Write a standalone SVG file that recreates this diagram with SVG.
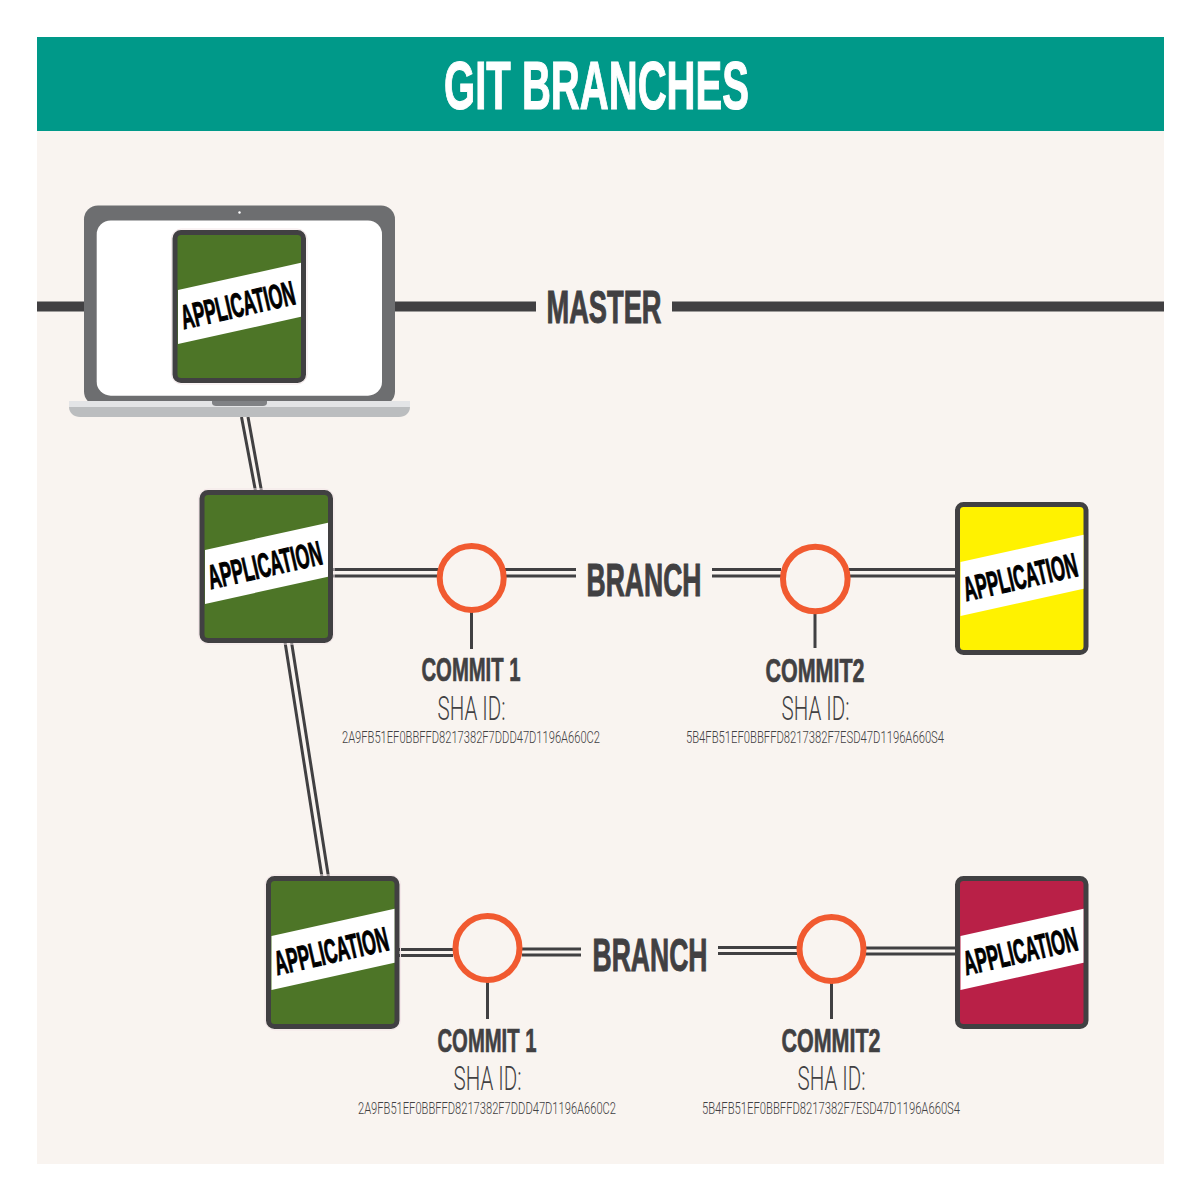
<svg xmlns="http://www.w3.org/2000/svg" xmlns:xlink="http://www.w3.org/1999/xlink" width="1200" height="1200" viewBox="0 0 1200 1200">
<style>
.h{font-family:"Liberation Sans",Arial,sans-serif;font-weight:700;fill:#414042;stroke:#414042;stroke-width:.7;text-anchor:middle}
.t{font-family:"Roboto","Liberation Sans",sans-serif;font-weight:300;fill:#414042;text-anchor:middle}
.sha{font-size:34px}
.hash{font-size:17px}
.c{font-size:34px}
.b{font-size:46.5px;stroke-width:1}
.app{font-family:"Liberation Sans",Arial,sans-serif;font-weight:700;font-size:34px;fill:#000;stroke:#000;stroke-width:1;text-anchor:middle}
.l{fill:none;stroke:#414042;stroke-width:3}
.ring{fill:#f9f4f0;stroke:#f15a30;stroke-width:6}
.frame{stroke:#414042;stroke-width:5;stroke-linejoin:round}
</style>
<defs>
<g id="label">
<rect x="-1" y="-1" width="135.500" height="155" rx="10" fill="none" stroke="#f3e6e8" stroke-width="1"/>
</g>
<g id="band">
<polygon points="5.500,60 128.500,32.700 128.500,86.700 5.500,114" fill="#fff"/>
<text class="app" transform="translate(67.800 86.500) rotate(-12.800)" x="0" y="0" textLength="116" lengthAdjust="spacingAndGlyphs">APPLICATION</text>
</g>
</defs>
<rect x="37" y="131" width="1127" height="1033" fill="#f9f4f0"/>
<g id="header">
<rect x="37" y="37" width="1127" height="94" fill="#009989"/>
<text x="596.500" y="109" font-family="Liberation Sans, Arial, sans-serif" font-weight="700" font-size="68" fill="#fff" stroke="#fff" stroke-width="1.200" text-anchor="middle" textLength="305" lengthAdjust="spacingAndGlyphs">GIT BRANCHES</text>
</g>
<g id="connectors">
<rect x="37" y="301.500" width="48" height="10" fill="#414042"/>
<rect x="394" y="301.500" width="142" height="10" fill="#414042"/>
<rect x="672" y="301.500" width="492" height="10" fill="#414042"/>
<path class="l" d="M241.500 417L255.500 491M248 417L261.500 491"/>
<path class="l" d="M285 642L322 877M291.500 642L328.500 877"/>
<path class="l" d="M332 569.500H438M332 576H438"/>
<path class="l" d="M505 569.500H576M505 576H576"/>
<path class="l" d="M712 569.500H781M712 576H781"/>
<path class="l" d="M849 569.500H956M849 576H956"/>
<path class="l" d="M399 949.500H453M399 955.500H453"/>
<path class="l" d="M522 949H581M522 955H581"/>
<path class="l" d="M718 947.500H798M718 953.500H798"/>
<path class="l" d="M865 948H956M865 954H956"/>
<path class="l" d="M471.500 612V649M815 614V648M487.500 982V1019M831.500 982V1019"/>
</g>
<g id="laptop">
<rect x="84" y="205.500" width="311" height="200" rx="14" fill="#6d6e70"/>
<rect x="96.700" y="220.500" width="285.300" height="175.200" rx="14" fill="#fff"/>
<circle cx="239.500" cy="212.500" r="1.200" fill="#fff"/>
<path d="M69 401H410V407C410 413 405 417 399 417H80C74 417 69 413 69 407Z" fill="#bbbdbf"/>
<rect x="69" y="401" width="341" height="6" fill="#e3e4e6"/>
<path d="M212 401H267V403C267 405 265 406 263 406H216C214 406 212 405 212 403Z" fill="#808285"/>
</g>
<g id="app-master" transform="translate(172.500 230)">
<use xlink:href="#label"/>
<rect class="frame" x="2.500" y="2.500" width="128.500" height="148" rx="6" fill="#4d7527"/>
<use xlink:href="#band"/>
</g>
<g id="app-branch1" transform="translate(199.500 490)">
<use xlink:href="#label"/>
<rect class="frame" x="2.500" y="2.500" width="128.500" height="148" rx="6" fill="#4d7527"/>
<use xlink:href="#band"/>
</g>
<g id="app-branch2" transform="translate(266 876)">
<use xlink:href="#label"/>
<rect class="frame" x="2.500" y="2.500" width="128.500" height="148" rx="6" fill="#4d7527"/>
<use xlink:href="#band"/>
</g>
<g id="app-yellow" transform="translate(955 502)">
<rect class="frame" x="2.500" y="2.500" width="128.500" height="148" rx="6" fill="#fff200"/>
<use xlink:href="#band"/>
</g>
<g id="app-crimson" transform="translate(955 876)">
<rect class="frame" x="2.500" y="2.500" width="128.500" height="148" rx="6" fill="#b92047"/>
<use xlink:href="#band"/>
</g>
<g id="label-master"><text class="h b" x="604" y="322.500" textLength="115" lengthAdjust="spacingAndGlyphs">MASTER</text></g>
<g id="label-branch1"><text class="h b" x="644" y="595.500" textLength="115" lengthAdjust="spacingAndGlyphs">BRANCH</text></g>
<g id="label-branch2"><text class="h b" x="650" y="970.500" textLength="115" lengthAdjust="spacingAndGlyphs">BRANCH</text></g>
<g id="commit-1a">
<circle class="ring" cx="471.700" cy="578" r="32"/>
<text class="h c" x="471" y="681" textLength="99" lengthAdjust="spacingAndGlyphs">COMMIT 1</text>
<text class="t sha" x="471.500" y="720" textLength="68" lengthAdjust="spacingAndGlyphs">SHA ID:</text>
<text class="t hash" transform="translate(471 743) scale(.66 1)" textLength="391" lengthAdjust="spacingAndGlyphs">2A9FB51EF0BBFFD8217382F7DDD47D1196A660C2</text>
</g>
<g id="commit-2a">
<circle class="ring" cx="815.300" cy="579" r="32.300"/>
<text class="h c" x="815" y="681.500" textLength="99" lengthAdjust="spacingAndGlyphs">COMMIT2</text>
<text class="t sha" x="815.500" y="720" textLength="68" lengthAdjust="spacingAndGlyphs">SHA ID:</text>
<text class="t hash" transform="translate(815 743) scale(.66 1)" textLength="391" lengthAdjust="spacingAndGlyphs">5B4FB51EF0BBFFD8217382F7ESD47D1196A660S4</text>
</g>
<g id="commit-1b">
<circle class="ring" cx="487.500" cy="948" r="32"/>
<text class="h c" x="487" y="1051.500" textLength="99" lengthAdjust="spacingAndGlyphs">COMMIT 1</text>
<text class="t sha" x="487.500" y="1090" textLength="68" lengthAdjust="spacingAndGlyphs">SHA ID:</text>
<text class="t hash" transform="translate(487 1114) scale(.66 1)" textLength="391" lengthAdjust="spacingAndGlyphs">2A9FB51EF0BBFFD8217382F7DDD47D1196A660C2</text>
</g>
<g id="commit-2b">
<circle class="ring" cx="831.500" cy="949" r="32"/>
<text class="h c" x="831" y="1051.500" textLength="99" lengthAdjust="spacingAndGlyphs">COMMIT2</text>
<text class="t sha" x="831.500" y="1090" textLength="68" lengthAdjust="spacingAndGlyphs">SHA ID:</text>
<text class="t hash" transform="translate(831 1114) scale(.66 1)" textLength="391" lengthAdjust="spacingAndGlyphs">5B4FB51EF0BBFFD8217382F7ESD47D1196A660S4</text>
</g>
</svg>
